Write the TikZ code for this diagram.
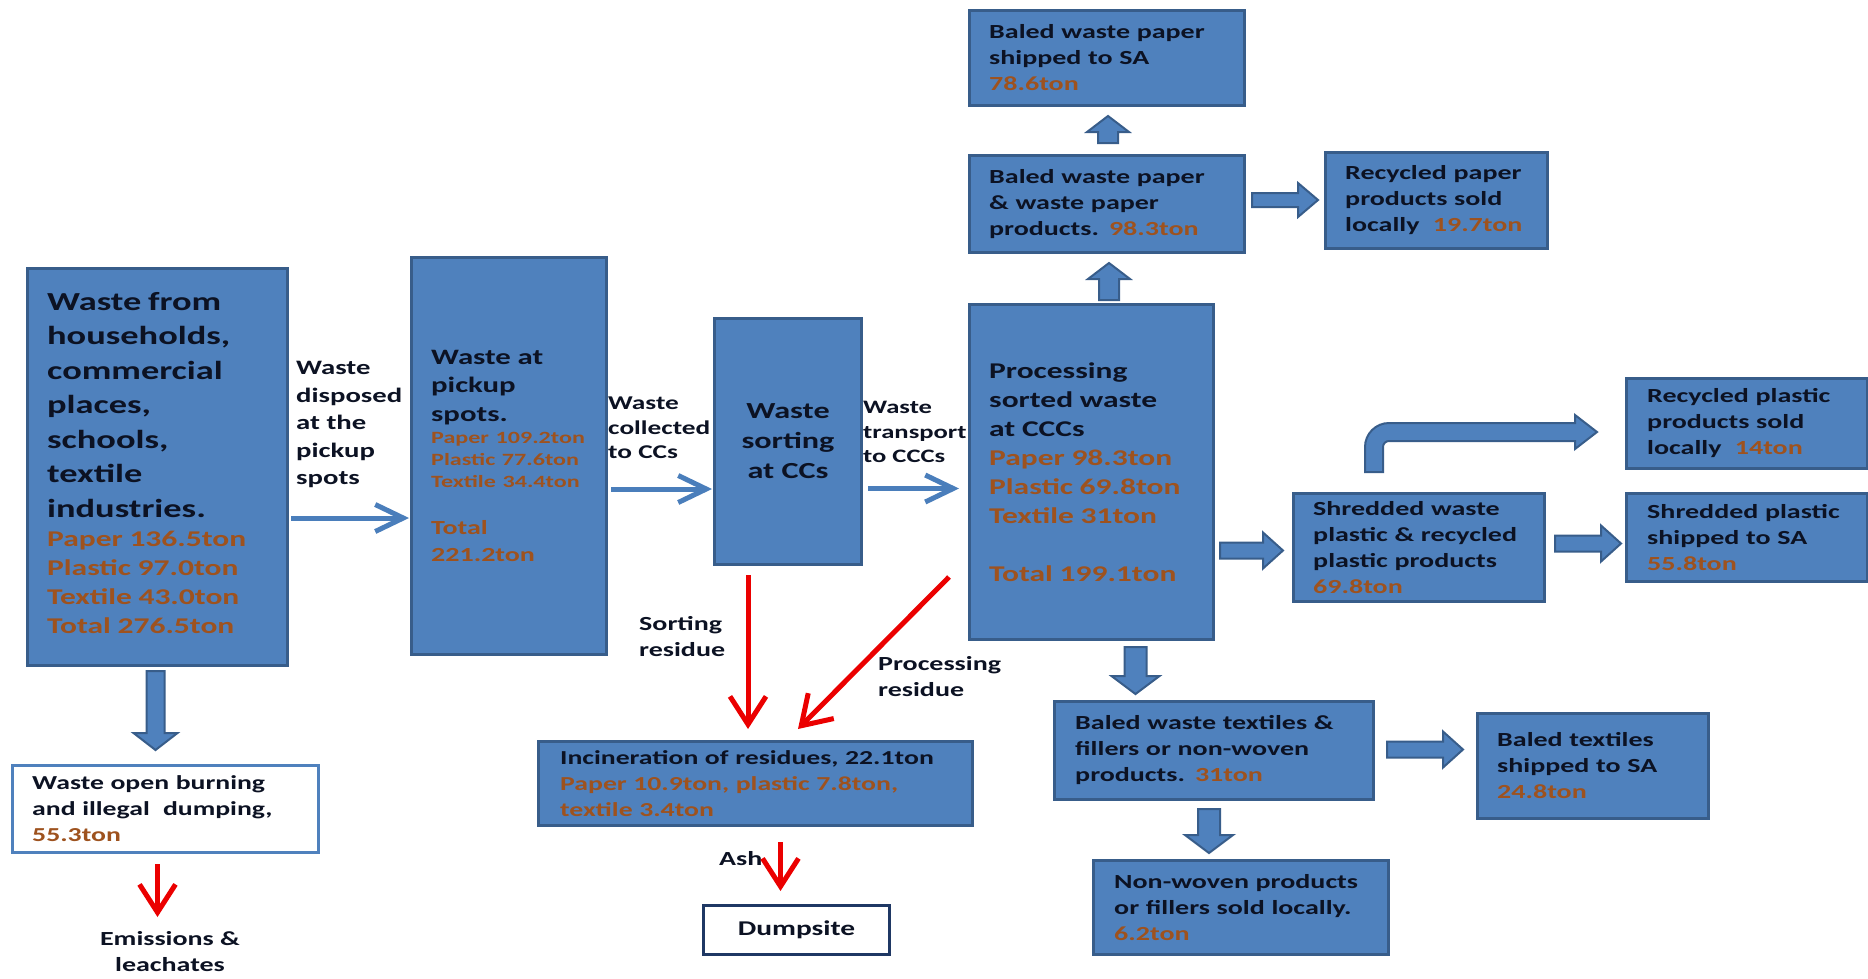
\documentclass[tikz,border=0pt]{standalone}
\usepackage{fontspec}
\setmainfont{Carlito}[FakeStretch=1.4]
\usetikzlibrary{arrows.meta,calc}
\definecolor{boxfill}{RGB}{79,129,189}
\definecolor{boxdraw}{RGB}{56,93,138}
\definecolor{txtc}{RGB}{12,18,35}
\definecolor{orng}{RGB}{158,82,30}
\definecolor{arrblue}{RGB}{74,126,187}
\definecolor{redc}{RGB}{235,0,0}
\definecolor{dumpdraw}{RGB}{31,56,100}
\newcommand\fsz[2]{\fontsize{#1}{#2}\selectfont}
\newcommand\org{\color{orng}}
\newcommand\blk[5]{%
  \draw[blkar] let \p1=#1, \p2=#2,
    \n1={veclen(\x2-\x1,\y2-\y1)},
    \n2={atan2(\y2-\y1,\x2-\x1)} in
    ($(\p1)+(\n2+90:#3)$) -- ++(\n2:\n1-#5) -- ++(\n2+90:#4-#3) -- (\p2)
    -- ($(\p2)+(\n2+180:#5)+(\n2-90:#4)$) -- ++(\n2+90:#4-#3)
    -- ($(\p1)+(\n2-90:#3)$) -- cycle;}
\begin{document}
\begin{tikzpicture}[x=1pt,y=1pt,
  box/.style={draw=boxdraw, fill=boxfill, line width=3pt, anchor=north west, inner sep=0pt},
  btxt/.style={anchor=west, inner sep=0pt, text width=400pt, align=left, font=\bfseries\fsz{20}{26}, text=txtc},
  lbl/.style={anchor=north west, inner sep=0pt, align=left, font=\bfseries\fsz{20}{26}, text=txtc},
  thinar/.style={draw=arrblue, line width=5pt, -{Straight Barb[length=28pt,width=27pt]}},
  redar/.style={draw=redc, line width=5pt, -{Straight Barb[length=28pt,width=36pt]}},
  blkar/.style={draw=boxdraw, fill=boxfill, line width=2pt, line join=miter}]
\fill[white] (0,0) rectangle (1868,-978);
\useasboundingbox (0,0) rectangle (1868,-978);

% ---- boxes ----
\node[box, minimum width=260pt, minimum height=397pt] (src) at (26,-267) {};
\node[btxt] (srcT) at ($(src.west)+(21,4)$) {%
{\fsz{26}{34.5}Waste from\\households,\\commercial\\places,\\schools,\\textile\\industries.\par}
{\fsz{22.5}{29}\org Paper 136.5ton\\Plastic 97.0ton\\Textile 43.0ton\\Total 276.5ton\par}};

\node[box, minimum width=195pt, minimum height=397pt] (pick) at (410,-256) {};
\node[btxt] (pickT) at ($(pick.west)+(21,0)$) {%
{\fsz{22}{28.3}Waste at\\pickup\\spots.\par}
{\fsz{17.2}{22}\org Paper 109.2ton\\Plastic 77.6ton\\Textile 34.4ton\par}
\vspace{21pt}
{\fsz{20}{26.7}\org Total\\221.2ton\par}};

\node[box, minimum width=147pt, minimum height=246pt, align=center, font=\bfseries\fsz{23}{30}, text=txtc] (sort) at (713,-317) {Waste\\sorting\\at CCs};

\node[box, minimum width=244pt, minimum height=335pt] (proc) at (968,-303) {};
\node[btxt] (procT) at ($(proc.west)+(21,0)$) {%
{\fsz{22.5}{29}Processing\\sorted waste\\at CCCs\par}
{\fsz{22.5}{29}\org Paper 98.3ton\\Plastic 69.8ton\\Textile 31ton\par}
\vspace{29pt}
{\fsz{22.5}{29}\org Total 199.1ton\par}};

\node[box, minimum width=275pt, minimum height=95pt] (tp) at (968,-9) {};
\node[btxt] (tpT) at ($(tp.west)+(21,0)$) {Baled waste paper\\shipped to SA\\{\org 78.6ton}};

\node[box, minimum width=275pt, minimum height=97pt] (bp) at (968,-154) {};
\node[btxt] (bpT) at ($(bp.west)+(21,0)$) {Baled waste paper\\\& waste paper\\products. {\org 98.3ton}};

\node[box, minimum width=222pt, minimum height=96pt] (rpap) at (1324,-151) {};
\node[btxt] (rpapT) at ($(rpap.west)+(21,0)$) {Recycled paper\\products sold\\locally\ \ {\org 19.7ton}};

\node[box, minimum width=241pt, minimum height=90pt] (rplas) at (1625,-377) {};
\node[btxt] (rplasT) at ($(rplas.west)+(22,0)$) {Recycled plastic\\products sold\\locally\ \ {\org 14ton}};

\node[box, minimum width=251pt, minimum height=108pt] (shr) at (1292,-492) {};
\node[btxt] (shrT) at ($(shr.west)+(21,0)$) {Shredded waste\\plastic \& recycled\\plastic products\\{\org 69.8ton}};

\node[box, minimum width=241pt, minimum height=88pt] (ss) at (1625,-492) {};
\node[btxt] (ssT) at ($(ss.west)+(22,0)$) {Shredded plastic\\shipped to SA\\{\org 55.8ton}};

\node[box, minimum width=319pt, minimum height=98pt] (bt) at (1053,-700) {};
\node[btxt] (btT) at ($(bt.west)+(22,0)$) {Baled waste textiles \&\\fillers or non-woven\\products. {\org 31ton}};

\node[box, minimum width=231pt, minimum height=105pt] (bts) at (1476,-712) {};
\node[btxt] (btsT) at ($(bts.west)+(21,0)$) {Baled textiles\\shipped to SA\\{\org 24.8ton}};

\node[box, minimum width=295pt, minimum height=94pt] (nw) at (1092,-859) {};
\node[btxt] (nwT) at ($(nw.west)+(22,0)$) {Non-woven products\\or fillers sold locally.\\{\org 6.2ton}};

\node[box, minimum width=434pt, minimum height=84pt] (inc) at (537,-740) {};
\node[btxt, font=\bfseries\fsz{19.8}{26}] (incT) at ($(inc.west)+(23,0)$) {Incineration of residues, 22.1ton\\{\org Paper 10.9ton, plastic 7.8ton,\\textile 3.4ton}};

\node[box, fill=white, draw=boxfill, minimum width=306pt, minimum height=87pt] (ob) at (11,-764) {};
\node[btxt, font=\bfseries\fsz{19.8}{26}] (obT) at ($(ob.west)+(21,0)$) {Waste open burning\\and illegal\ \ dumping,\\{\org 55.3ton}};

\node[box, fill=white, draw=dumpdraw, minimum width=186pt, minimum height=49pt, font=\bfseries\fsz{21}{26}, text=txtc] (dump) at (702,-904) {Dumpsite};

% ---- labels ----
\node[lbl, font=\bfseries\fsz{20.5}{27.5}] (l1) at (296,-361) {Waste\\disposed\\at the\\pickup\\spots};
\node[lbl, font=\bfseries\fsz{19.5}{24.5}] (l2) at (608,-397) {Waste\\collected\\to CCs};
\node[lbl, font=\bfseries\fsz{19}{24.5}] (l3) at (863,-401) {Waste\\transport\\to CCCs};
\node[lbl] (l4) at (639,-616) {Sorting\\residue};
\node[lbl] (l5) at (878,-656) {Processing\\residue};
\node[lbl] (l6) at (719,-851) {Ash};
\node[lbl, anchor=north, align=center] (em) at (170,-931) {Emissions \&\\leachates};

% ---- thin blue arrows ----
\draw[thinar] ($(src.east)+(2,-51)$) -- ($(pick.west |- src.east)+(-1,-51)$);
\draw[thinar] ($(pick.east)+(3,-33)$) -- ($(sort.west |- pick.east)+(-1,-33)$);
\draw[thinar] ($(sort.east)+(5,-47)$) -- ($(proc.west |- sort.east)+(-9,-47)$);

% ---- red arrows ----
\draw[redar] ($(sort.south)+(-40,-9)$) -- ($(sort.south |- inc.north)+(-40,11)$);
\draw[redar] ($(proc.south west)+(-19,64)$) -- ($(inc.north west)+(261,11)$);
\draw[redar] ($(dump.north |- inc.south)+(-16,-15)$) -- ($(dump.north)+(-16,13)$);
\draw[redar] ($(ob.south)+(-8,-10)$) -- ($(em.north -| ob.south)+(-8,14)$);

% ---- block arrows ----
\blk{($(src.south)+(-2,-4)$)}{($(src.south |- ob.north)+(-2,14)$)}{9pt}{22pt}{17pt}
\blk{($(bp.north)+(1,11)$)}{($(tp.south)+(1,-9)$)}{10pt}{21pt}{16pt}
\blk{($(bp.south |- proc.north)+(2,3)$)}{($(bp.south)+(2,-9)$)}{10pt}{21pt}{16pt}
\blk{($(bp.east)+(6,4)$)}{($(rpap.west |- bp.east)+(-6,4)$)}{7pt}{17pt}{20pt}
\blk{($(proc.east |- shr.west)+(5,-3)$)}{($(shr.west)+(-9,-3)$)}{8pt}{18pt}{20pt}
\blk{($(shr.east)+(9,4)$)}{($(ss.west |- shr.east)+(-4,4)$)}{8pt}{18pt}{20pt}
\blk{($(proc.south)+(44,-6)$)}{($(proc.south |- bt.north)+(44,6)$)}{11pt}{24pt}{18pt}
\blk{($(bt.east)+(12,1)$)}{($(bts.west |- bt.east)+(-13,1)$)}{8pt}{18pt}{20pt}
\blk{($(bt.south)+(-5,-8)$)}{($(bt.south |- nw.north)+(-5,6)$)}{11pt}{24pt}{18pt}
% bent arrow: shredded -> recycled plastic
\draw[blkar] ($(shr.north west)+(73,20)$) -- ++(0,25) arc[start angle=180,end angle=90,radius=24pt]
  -- ++(186,0) -- ++(0,8) -- ++(22,-17) -- ++(-22,-17) -- ++(0,8) -- ++(-186,0)
  arc[start angle=90,end angle=180,radius=6pt] -- ++(0,-25) -- cycle;
\end{tikzpicture}
\end{document}
